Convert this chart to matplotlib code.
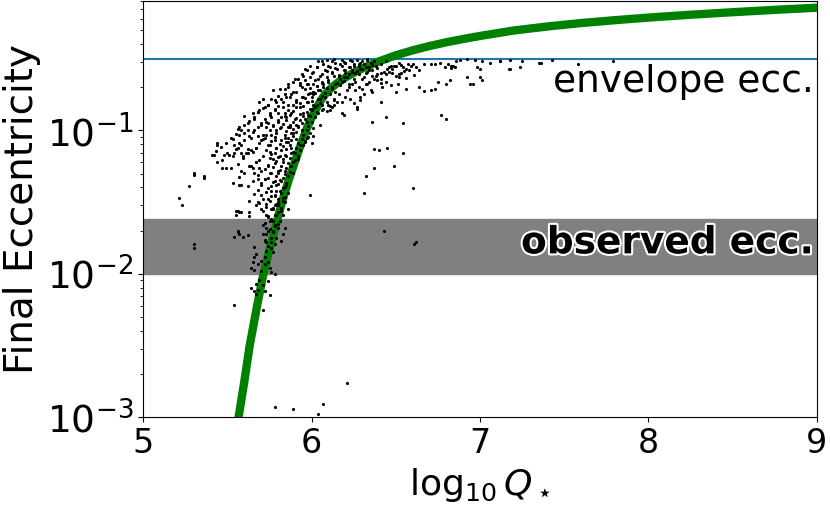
import numpy as np
import matplotlib
matplotlib.use("Agg")
from matplotlib import pyplot as plt
import matplotlib.patheffects as pe

# green model curve: (log10 Q*, log10 e_final)
curve_logq = [5.53, 5.566, 5.60, 5.632, 5.67, 5.71, 5.75, 5.79, 5.824, 5.86, 5.90,
              5.94, 5.97, 6.00, 6.03, 6.05, 6.079, 6.12, 6.168, 6.22, 6.268, 6.33,
              6.40, 6.50, 6.60, 6.70, 6.80, 6.90, 7.00, 7.20, 7.40, 7.60,
              7.80, 8.00, 8.25, 8.50, 8.75, 9.00]
curve_loge = [-3.35, -3.0, -2.75, -2.5, -2.26, -2.02, -1.83, -1.65, -1.50, -1.36, -1.22,
              -1.085, -0.99, -0.91, -0.843, -0.80, -0.749, -0.70, -0.656, -0.618, -0.587, -0.553,
              -0.519, -0.477, -0.442, -0.412, -0.386, -0.363, -0.342, -0.304, -0.276, -0.252,
              -0.232, -0.214, -0.194, -0.1765, -0.160, -0.145]

envelope_ecc = 0.314
observed_lo, observed_hi = 0.01, 0.0243

# simulated systems, (log10 Q*, log10 e_final)
dense_pts = [
    (6.04, -0.52), (6.13, -0.505), (6.19, -0.525), (6.23, -0.51), (6.29, -0.53), (6.33, -0.505),
    (6.37, -0.52), (6.44, -0.515), (6.52, -0.53),
    (5.99, -0.55), (6.07, -0.535), (6.11, -0.555), (6.17, -0.54), (6.20, -0.53), (6.25, -0.55),
    (6.28, -0.535), (6.32, -0.56), (6.36, -0.545), (6.41, -0.535), (6.47, -0.55), (6.57, -0.54),
    (5.96, -0.575), (6.03, -0.56), (6.09, -0.585), (6.14, -0.565), (6.19, -0.58), (6.23, -0.56),
    (6.27, -0.585), (6.30, -0.57), (6.34, -0.58), (6.39, -0.565), (6.45, -0.575), (6.55, -0.585),
    (5.94, -0.605), (6.01, -0.59), (6.06, -0.61), (6.12, -0.595), (6.16, -0.615), (6.20, -0.60),
    (6.24, -0.59), (6.28, -0.61), (6.33, -0.595), (6.38, -0.62), (6.48, -0.60),
    (5.92, -0.64), (5.99, -0.625), (6.04, -0.645), (6.09, -0.63), (6.13, -0.62), (6.17, -0.64),
    (6.21, -0.625), (6.25, -0.645), (6.31, -0.63), (6.37, -0.64),
    (5.89, -0.665), (5.96, -0.65), (6.01, -0.675), (6.06, -0.66), (6.10, -0.65), (6.15, -0.67),
    (6.19, -0.655), (6.24, -0.675), (6.34, -0.66),
    (5.86, -0.70), (5.93, -0.685), (5.99, -0.705), (6.03, -0.69), (6.07, -0.68), (6.12, -0.70),
    (6.17, -0.685), (6.22, -0.70),
    (5.84, -0.715), (5.91, -0.73), (5.96, -0.71), (6.01, -0.735), (6.05, -0.72), (6.09, -0.705),
    (6.14, -0.73), (6.26, -0.72),
    (5.80, -0.76), (5.88, -0.745), (5.94, -0.765), (5.98, -0.75), (6.02, -0.74), (6.06, -0.76),
    (6.11, -0.745), (6.20, -0.765),
    (5.78, -0.785), (5.85, -0.77), (5.91, -0.79), (5.96, -0.775), (6.00, -0.795), (6.04, -0.78),
    (6.08, -0.77), (6.13, -0.79),
    (5.74, -0.82), (5.83, -0.805), (5.89, -0.825), (5.93, -0.81), (5.97, -0.80), (6.01, -0.825),
    (6.05, -0.81), (6.10, -0.82), (6.15, -0.805),
    (5.71, -0.845), (5.80, -0.83), (5.86, -0.855), (5.91, -0.84), (5.95, -0.83), (5.99, -0.85),
    (6.02, -0.835), (6.06, -0.855), (6.12, -0.84),
    (5.68, -0.875), (5.78, -0.86), (5.84, -0.88), (5.89, -0.865), (5.93, -0.885), (5.97, -0.87),
    (6.00, -0.86), (6.04, -0.88), (6.09, -0.865),
    (5.66, -0.905), (5.75, -0.89), (5.82, -0.91), (5.87, -0.895), (5.91, -0.915), (5.95, -0.90),
    (5.98, -0.89), (6.02, -0.91),
    (5.63, -0.935), (5.72, -0.92), (5.80, -0.94), (5.85, -0.925), (5.89, -0.945), (5.93, -0.93),
    (5.96, -0.92), (6.00, -0.94),
    (5.60, -0.965), (5.70, -0.95), (5.77, -0.97), (5.83, -0.955), (5.87, -0.975), (5.91, -0.96),
    (5.94, -0.95), (5.98, -0.97),
    (5.58, -0.995), (5.68, -0.98), (5.75, -1.00), (5.81, -0.985), (5.85, -1.005), (5.89, -0.99),
    (5.92, -0.98), (5.97, -1.00), (6.01, -0.985),
    (5.55, -1.025), (5.65, -1.01), (5.73, -1.03), (5.79, -1.015), (5.84, -1.035), (5.88, -1.02),
    (5.91, -1.01), (5.95, -1.03), (5.99, -1.015),
    (5.52, -1.055), (5.63, -1.04), (5.71, -1.06), (5.78, -1.045), (5.82, -1.065), (5.86, -1.05),
    (5.89, -1.04), (5.94, -1.06), (5.98, -1.045),
    (5.49, -1.085), (5.60, -1.07), (5.69, -1.09), (5.76, -1.075), (5.81, -1.095), (5.85, -1.08),
    (5.88, -1.07), (5.92, -1.09), (5.96, -1.075), (6.00, -1.085),
    (5.46, -1.115), (5.58, -1.10), (5.67, -1.12), (5.74, -1.105), (5.79, -1.125), (5.83, -1.11),
    (5.87, -1.10), (5.91, -1.12), (5.95, -1.105),
    (5.43, -1.145), (5.55, -1.13), (5.65, -1.15), (5.73, -1.135), (5.78, -1.155), (5.82, -1.14),
    (5.85, -1.13), (5.89, -1.15), (5.93, -1.135),
    (5.51, -1.175), (5.62, -1.16), (5.71, -1.18), (5.76, -1.165), (5.80, -1.185), (5.84, -1.17),
    (5.88, -1.16), (5.92, -1.18),
    (5.47, -1.205), (5.59, -1.19), (5.69, -1.21), (5.75, -1.195), (5.79, -1.215), (5.83, -1.20),
    (5.87, -1.19), (5.90, -1.21),
    (5.56, -1.235), (5.67, -1.22), (5.74, -1.24), (5.78, -1.225), (5.82, -1.245), (5.86, -1.23),
    (5.89, -1.22),
    (5.52, -1.265), (5.64, -1.25), (5.72, -1.27), (5.77, -1.255), (5.81, -1.275), (5.85, -1.26),
    (5.88, -1.25),
    (5.60, -1.295), (5.70, -1.28), (5.75, -1.30), (5.80, -1.285), (5.84, -1.305), (5.87, -1.29),
    (5.57, -1.325), (5.68, -1.31), (5.74, -1.33), (5.79, -1.315), (5.83, -1.335), (5.86, -1.32),
    (5.65, -1.355), (5.72, -1.34), (5.77, -1.36), (5.81, -1.345), (5.85, -1.365),
    (5.62, -1.385), (5.70, -1.37), (5.76, -1.39), (5.80, -1.375), (5.84, -1.395),
    (5.68, -1.415), (5.74, -1.40), (5.79, -1.42), (5.83, -1.405),
    (5.66, -1.445), (5.73, -1.43), (5.78, -1.45), (5.82, -1.435),
    (5.71, -1.475), (5.76, -1.46), (5.80, -1.48), (5.84, -1.465),
    (5.69, -1.505), (5.75, -1.49), (5.79, -1.51), (5.83, -1.495),
    (5.73, -1.535), (5.78, -1.52), (5.82, -1.54),
    (5.71, -1.565), (5.76, -1.55), (5.80, -1.57),
    (5.74, -1.605), (5.78, -1.59),
    (5.72, -1.645), (5.77, -1.63), (5.80, -1.65),
    (5.75, -1.685), (5.78, -1.67),
    (5.73, -1.725), (5.77, -1.71),
    (5.72, -1.765), (5.76, -1.75),
    (5.74, -1.805), (5.78, -1.79),
]

core_pts = [
    (6.05, -0.62), (6.08, -0.58), (6.10, -0.55), (6.12, -0.60), (6.14, -0.53), (6.15, -0.57),
    (6.16, -0.62), (6.18, -0.55), (6.18, -0.51), (6.20, -0.58), (6.20, -0.53), (6.22, -0.56),
    (6.22, -0.61), (6.24, -0.52), (6.24, -0.58), (6.25, -0.54), (6.26, -0.60), (6.27, -0.51),
    (6.28, -0.55), (6.29, -0.57), (6.30, -0.52), (6.31, -0.54), (6.32, -0.60), (6.33, -0.51),
    (6.34, -0.56), (6.35, -0.53), (6.36, -0.58), (6.37, -0.52), (6.38, -0.55), (6.30, -0.64),
    (6.26, -0.66), (6.22, -0.68), (6.18, -0.66), (6.14, -0.68), (6.12, -0.71), (6.10, -0.66),
    (6.08, -0.74), (6.06, -0.67), (6.04, -0.72), (6.02, -0.65), (6.19, -0.63), (6.21, -0.72),
    (6.16, -0.75), (6.13, -0.78), (6.09, -0.80), (6.11, -0.83), (6.07, -0.85), (6.05, -0.78),
    (6.03, -0.82), (6.00, -0.85), (5.98, -0.80), (5.99, -0.90), (5.97, -0.94), (5.95, -0.88),
    (5.93, -0.84), (5.91, -0.80), (5.90, -0.92), (5.92, -0.97), (5.94, -1.00), (5.96, -1.08),
    (5.93, -1.10), (5.91, -1.06), (5.89, -1.02), (5.87, -0.96), (5.88, -1.12), (5.90, -1.16),
    (5.92, -1.20), (5.86, -1.08), (5.85, -1.18), (5.87, -1.25), (5.89, -1.30), (5.84, -1.28),
    (5.83, -1.22), (5.82, -1.35), (5.85, -1.38), (5.86, -1.44), (5.81, -1.42), (5.80, -1.30),
    (5.79, -1.38), (5.78, -1.46), (5.80, -1.50), (5.83, -1.47), (5.77, -1.55), (5.82, -1.56),
    (5.76, -1.62), (5.78, -1.66), (5.74, -1.70), (5.80, -1.68), (5.73, -1.78), (5.76, -1.82),
    (5.72, -1.88), (5.74, -1.92), (5.70, -1.98), (5.69, -2.04), (5.71, -2.08), (5.74, -2.05),
    (5.76, -0.78), (5.78, -0.85), (5.80, -0.93), (5.82, -0.78), (5.82, -0.98), (5.84, -0.90),
    (5.84, -1.05), (5.86, -0.82), (5.86, -0.98), (5.88, -0.88), (5.74, -0.95), (5.72, -1.05),
    (5.70, -0.96), (5.75, -1.15), (5.77, -1.20), (5.79, -1.12), (5.81, -1.18), (5.74, -1.25),
    (5.76, -1.30), (5.72, -1.34), (5.78, -1.35), (5.70, -1.45), (5.74, -1.48), (5.76, -1.42),
    (5.68, -1.50), (5.84, -0.75), (5.86, -0.68), (5.90, -0.64), (5.95, -0.62), (5.97, -0.58),
    (6.00, -0.60), (6.03, -0.56), (6.06, -0.52), (6.09, -0.51),
    (6.12, -0.52), (6.07, -0.70), (6.06, -0.82), (6.01, -0.75), (5.97, -0.68), (5.93, -0.67),
    (6.00, -0.77), (5.95, -0.77), (6.03, -0.87), (6.05, -0.96), (6.01, -1.04), (5.97, -1.05),
    (5.94, -0.70), (5.98, -0.68), (5.99, -0.74), (6.01, -0.73), (6.03, -0.69),
    (5.79, -0.80), (5.81, -0.71), (5.80, -0.88), (5.83, -0.84), (5.85, -0.91), (5.87, -0.77),
    (5.89, -0.73), (5.73, -0.98), (5.77, -0.96), (5.76, -1.03), (5.79, -1.00), (5.75, -1.10),
    (5.78, -1.07), (5.65, -0.88), (5.68, -0.87), (5.69, -0.80), (5.72, -0.84), (5.74, -0.82),
    (5.75, -0.88), (5.73, -0.94), (5.76, -0.91),
]

left_pts = [
    (5.21, -1.47), (5.23, -1.52), (5.27, -1.39), (5.30, -1.30), (5.30, -1.31), (5.36, -1.33),
    (5.36, -1.32), (5.41, -1.17), (5.42, -1.17), (5.44, -1.09), (5.44, -1.10), (5.44, -1.22),
    (5.47, -1.26), (5.49, -1.26), (5.48, -1.17), (5.50, -1.16), (5.53, -1.18), (5.54, -1.16),
    (5.53, -1.06), (5.54, -1.10), (5.56, -1.12), (5.57, -1.09), (5.58, -1.16), (5.59, -1.18),
    (5.61, -1.16), (5.62, -1.13), (5.64, -1.14), (5.56, -0.99), (5.57, -1.03), (5.62, -1.00),
    (5.57, -0.98), (5.53, -1.37), (5.57, -1.38), (5.58, -1.38), (5.58, -1.28), (5.63, -1.25),
    (5.65, -1.26), (5.67, -1.22), (5.66, -1.30), (5.68, -1.34), (5.70, -1.38), (5.69, -1.26),
    (5.63, -1.49), (5.63, -1.57), (5.67, -1.52), (5.70, -1.55), (5.73, -1.51), (5.73, -1.59),
    (5.55, -1.56), (5.57, -1.57), (5.66, -1.00), (5.68, -1.04), (5.71, -1.03), (5.70, -1.07),
    (5.67, -1.12), (5.60, -0.90), (5.62, -0.95), (5.66, -0.92), (5.64, -1.05), (5.60, -1.02),
    (5.69, -0.86), (5.71, -0.78), (5.77, -0.72),
]

band_pts = [
    (5.30, -1.79), (5.30, -1.82), (5.56, -1.56), (5.55, -1.59), (5.58, -1.57), (5.63, -1.60),
    (5.56, -1.71), (5.54, -1.74), (5.56, -1.70), (5.57, -1.72), (5.59, -1.74), (5.62, -1.73),
    (5.66, -1.81), (5.67, -1.86), (5.66, -1.88), (5.64, -1.96), (5.66, -1.97), (5.70, -1.91),
    (5.68, -1.93), (5.67, -2.07), (5.68, -2.11), (5.66, -2.12), (5.64, -2.10), (5.67, -2.14),
    (5.72, -2.12), (5.75, -2.15), (5.71, -2.25), (5.54, -2.22), (5.72, -1.93), (5.75, -1.96),
    (5.76, -1.99), (5.78, -2.00), (5.71, -1.72), (5.72, -1.77), (5.73, -1.68), (5.71, -1.66),
    (5.75, -1.63), (5.74, -1.60), (5.77, -1.70), (5.79, -1.75), (5.76, -1.78), (5.83, -1.72),
    (5.82, -1.77), (5.84, -1.68), (5.81, -1.63), (5.79, -1.59), (5.83, -1.59), (5.77, -1.54),
    (5.80, -1.52), (5.84, -1.50), (5.86, -1.55), (5.77, -1.85), (5.73, -1.84), (5.65, -1.92),
    (6.43, -1.70), (6.61, -1.79), (6.62, -1.78),
]

plateau_pts = [
    (7.12, -0.517), (7.18, -0.51), (7.17, -0.575), (7.24, -0.56), (7.25, -0.52), (7.35, -0.53),
    (7.43, -0.51), (7.58, -0.535), (7.79, -0.52), (7.36, -0.53), (7.18, -0.575), (7.12, -0.52),
    (7.06, -0.53), (7.01, -0.52), (6.97, -0.51), (6.92, -0.505), (6.88, -0.51), (6.86, -0.52),
    (7.01, -0.65), (7.00, -0.63), (6.96, -0.675), (6.94, -0.675), (6.92, -0.63), (6.82, -0.65),
    (6.80, -0.675), (6.75, -0.66), (6.73, -0.715), (6.71, -0.72), (6.67, -0.725), (6.64, -0.70),
    (6.56, -0.715), (6.50, -0.73), (6.47, -0.685), (6.51, -0.68), (6.61, -0.615), (6.64, -0.58),
    (6.56, -0.635), (6.52, -0.61), (6.58, -0.58), (6.54, -0.56), (6.60, -0.54), (6.67, -0.54),
    (6.71, -0.54), (6.73, -0.535), (6.76, -0.53), (6.79, -0.56), (6.83, -0.565), (6.84, -0.55),
    (6.81, -0.54), (6.43, -0.59), (6.46, -0.56), (6.49, -0.55), (6.53, -0.545), (6.39, -0.605),
    (6.36, -0.62), (6.41, -0.645), (6.33, -0.68), (6.35, -0.72), (6.31, -0.745), (6.28, -0.70),
    (6.29, -0.77), (6.25, -0.81), (6.27, -0.84), (6.44, -0.66), (6.41, -0.67), (6.39, -0.65),
    (6.42, -0.70), (6.36, -0.73), (6.30, -0.71), (6.32, -0.68), (6.23, -0.78), (6.29, -0.79),
    (6.13, -0.82), (6.11, -0.86), (6.18, -0.80), (6.98, -0.56), (7.00, -0.57), (6.85, -0.56),
    (6.83, -0.55), (6.62, -0.56), (6.59, -0.55), (6.56, -0.57), (6.50, -0.55), (6.48, -0.57),
    (6.46, -0.59), (6.44, -0.61), (6.41, -0.60), (6.53, -0.60), (6.52, -0.63), (6.50, -0.62),
]

outlier_pts = [
    (6.77, -0.89), (6.80, -0.92), (6.54, -0.95), (6.44, -0.91), (6.36, -0.94), (6.18, -0.88),
    (6.27, -0.85), (6.41, -0.80), (6.37, -1.13), (6.40, -1.14), (6.45, -1.12), (6.54, -1.16),
    (6.37, -1.26), (6.49, -1.25), (6.32, -1.32), (6.60, -1.40), (6.31, -1.44), (5.99, -1.45),
    (6.19, -0.89), (6.21, -2.76), (6.07, -2.91), (6.04, -2.98), (5.89, -2.94), (5.78, -2.93),
]

all_pts = dense_pts + core_pts + left_pts + band_pts + plateau_pts + outlier_pts
sim_logq = np.array([p[0] for p in all_pts])
sim_e = 10 ** np.array([p[1] for p in all_pts])

fig = plt.figure(figsize=(8.3, 5.09), dpi=100)
ax = fig.add_axes([143.3 / 830, 1 - 417.3 / 509, 673.4 / 830, 416.5 / 509])

ax.axhspan(observed_lo, observed_hi, color='gray', zorder=1)
ax.axhline(envelope_ecc, color='C0', lw=1.5, zorder=2)
ax.plot(curve_logq, 10 ** np.array(curve_loge), color='green', lw=6, zorder=3)
ax.plot(sim_logq, sim_e, 'k.', markersize=2.5, zorder=4)

ax.set_yscale('log')
ax.set_xlim(5, 9)
ax.set_ylim(1e-3, 0.8)
ax.set_xticks([5, 6, 7, 8, 9])
ax.tick_params(axis='x', labelsize=24)
ax.tick_params(axis='y', labelsize=27)

ax.text(8.98, 0.29, 'envelope ecc.', ha='right', va='top', fontsize=27, zorder=5)
ax.text(8.985, 0.0163, 'observed ecc.', ha='right', va='center', fontsize=27,
        fontweight='bold', color='black', zorder=5,
        path_effects=[pe.withStroke(linewidth=3, foreground='white')])

ax.set_xlabel(r'$\log_{10}Q_\star$', fontsize=26)
ax.set_ylabel('Final Eccentricity', fontsize=28)

plt.savefig('out.png', dpi=100)
